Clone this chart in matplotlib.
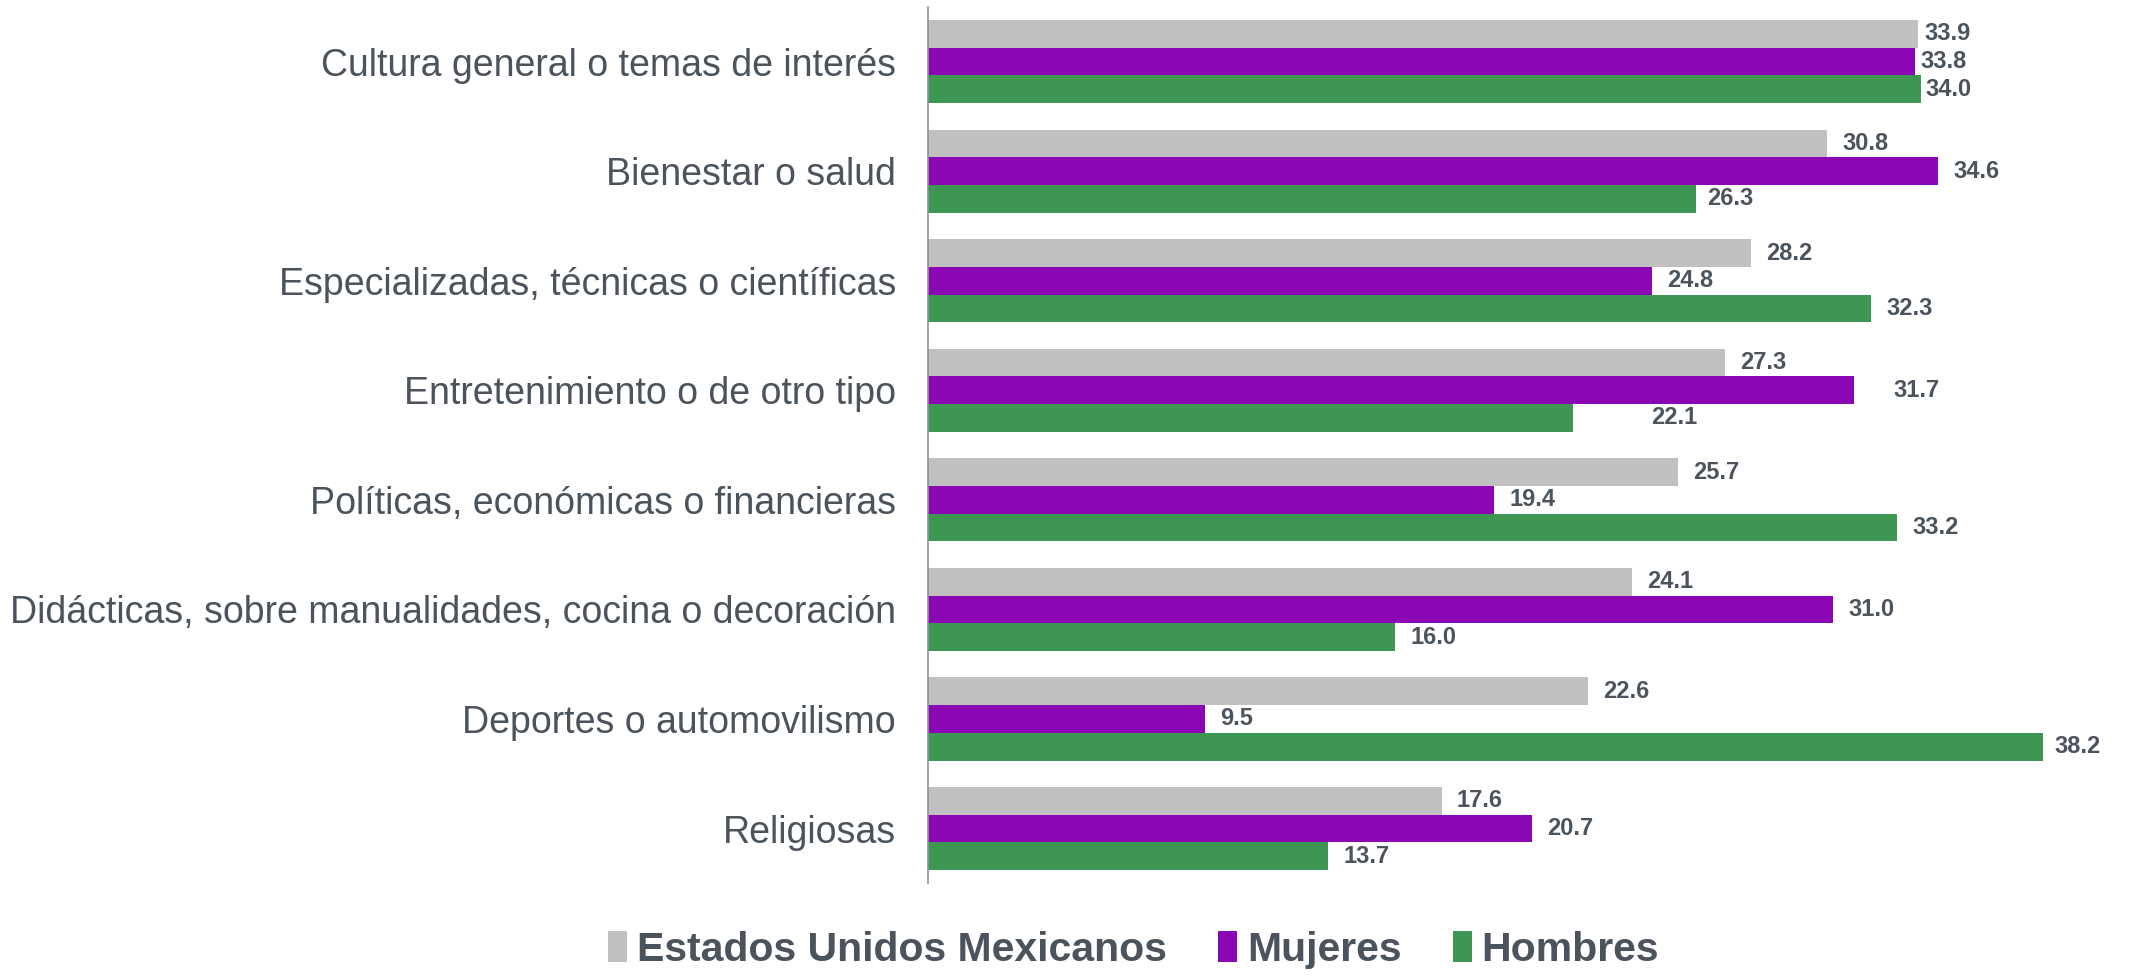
import numpy as np
import matplotlib
matplotlib.use("Agg")
import matplotlib.pyplot as plt

# Data
categories = [
    "Cultura general o temas de interés",
    "Bienestar o salud",
    "Especializadas, técnicas o científicas",
    "Entretenimiento o de otro tipo",
    "Políticas, económicas o financieras",
    "Didácticas, sobre manualidades, cocina o decoración",
    "Deportes o automovilismo",
    "Religiosas",
]
series_names = ["Estados Unidos Mexicanos", "Mujeres", "Hombres"]
total = [33.9, 30.8, 28.2, 27.3, 25.7, 24.1, 22.6, 17.6]
mujeres = [33.8, 34.6, 24.8, 31.7, 19.4, 31.0, 9.5, 20.7]
hombres = [34.0, 26.3, 32.3, 22.1, 33.2, 16.0, 38.2, 13.7]

colors = ["#C0C0C0", "#8A07B3", "#3D9752"]
text_color = "#4B535D"
fonts = ["Liberation Sans", "DejaVu Sans"]

# label offsets in points (default, and a few manual nudges as in the original)
default_offset = 10.8
nudges = {(0, 0): 4.9, (0, 1): 4.0, (0, 2): 3.5, (1, 2): 8.0,
          (3, 1): 28.4, (3, 2): 56.0, (6, 2): 7.8}

fig = plt.figure(figsize=(21.31, 9.76), dpi=100)
ax = fig.add_axes([0.4355, 0.095, 0.5645, 0.898])

y = np.arange(len(categories))
h = 0.253
all_series = [total, mujeres, hombres]
for s, vals in enumerate(all_series):
    pos = y + (s - 1) * h
    ax.barh(pos, vals, height=h, color=colors[s], label=series_names[s])
    for i, v in enumerate(vals):
        off = nudges.get((i, s), default_offset)
        ax.annotate(f"{v:.1f}", xy=(v, pos[i]), xytext=(off, 0),
                    textcoords="offset points", va="center", ha="left",
                    fontsize=17, fontweight="bold", color=text_color,
                    family=fonts)

ax.set_xlim(0, 41.2)
ax.set_ylim(len(categories) - 0.5, -0.5)
ax.set_yticks(y)
ax.set_yticklabels(categories, fontsize=27, color=text_color, family=fonts)
ax.tick_params(axis="y", length=0, pad=23)
ax.set_xticks([])
for side in ["top", "right", "bottom"]:
    ax.spines[side].set_visible(False)
ax.spines["left"].set_color("#8493A3")
ax.spines["left"].set_linewidth(1.2)

fig.legend(loc="center", bbox_to_anchor=(0.532, 0.027), ncol=3, frameon=False,
           handlelength=0.46, handleheight=0.78, handletextpad=0.23,
           columnspacing=1.27,
           prop={"family": fonts, "weight": "bold", "size": 29.5},
           labelcolor=text_color)

fig.savefig("out.png", dpi=100)
